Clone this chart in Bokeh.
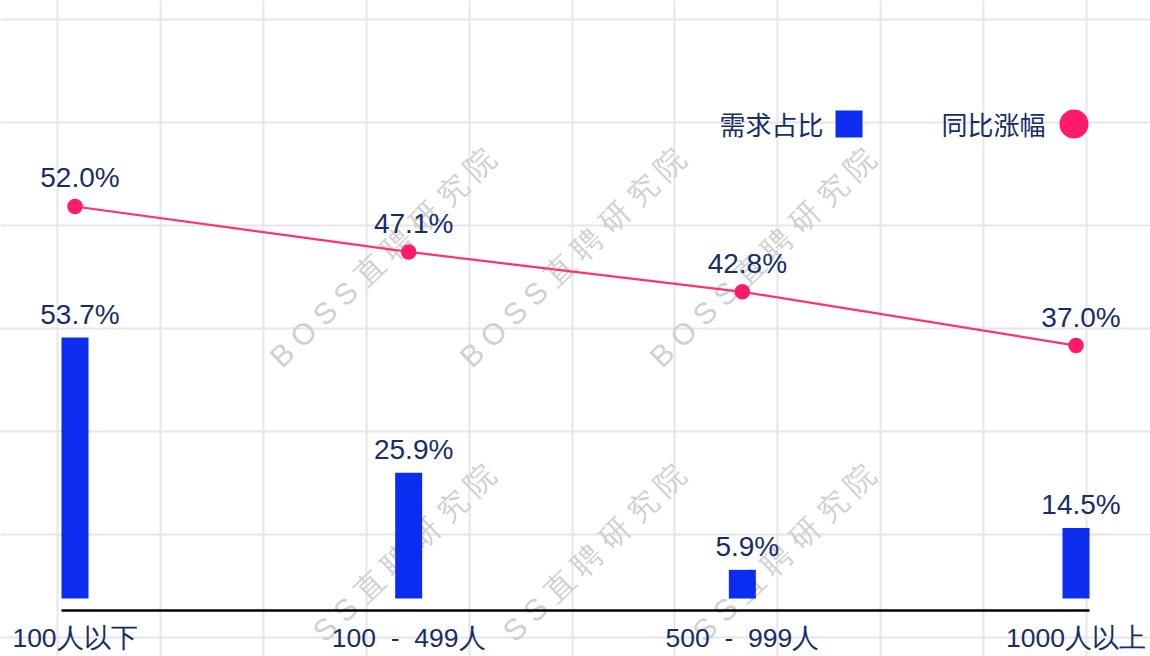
import math
from bokeh.plotting import figure
from bokeh.models import Range1d, ColumnDataSource, LabelSet, Label, FixedTicker, Grid
from bokeh.core.properties import value
from bokeh.embed import file_html
from bokeh.resources import INLINE

# ---------------- data ----------------
categories = ["100人以下", "100\u2007-\u2007499人", "500\u2007-\u2007999人", "1000人以上"]
demand_share = [53.7, 25.9, 5.9, 14.5]        # 需求占比 (bars)
yoy_growth = [52.0, 47.1, 42.8, 37.0]         # 同比涨幅 (line)
demand_labels = ["53.7%", "25.9%", "5.9%", "14.5%"]
growth_labels = ["52.0%", "47.1%", "42.8%", "37.0%"]
legend_names = ["需求占比", "同比涨幅"]
watermark_full = "B O S S 直 聘 研 究 院"
watermark_cut = "S S 直 聘 研 究 院"

# ---------------- layout / style ----------------
W, H = 1150, 656
X_MIN, X_MAX = -74.5 / 333.67, (1150 - 74.5) / 333.67
Y_MIN, Y_MAX = -11.93, 123.05          # bar axis
L_MIN, L_MAX = 3.46, 74.22             # line axis

NAVY = "#172d6b"
BLUE = "#0c2cf0"
PINK = "#ff1a6b"
GRID = "#e6e6e6"
FONT = "Liberation Sans"
CJK = "Noto Sans CJK SC"


def dx(px):
    return X_MIN + px / W * (X_MAX - X_MIN)


def dy(py):
    return Y_MIN + (H - py) / H * (Y_MAX - Y_MIN)


xs = list(range(len(categories)))
BAR_W = 27 / 333.67

p = figure(width=W, height=H,
           x_range=Range1d(X_MIN, X_MAX), y_range=Range1d(Y_MIN, Y_MAX),
           output_backend="svg", toolbar_location=None, min_border=0,
           x_axis_location=None, y_axis_location=None)
p.extra_y_ranges = {"line": Range1d(L_MIN, L_MAX)}
p.outline_line_color = None
p.background_fill_color = "white"
p.border_fill_color = "white"
p.grid.visible = False

# background grid
vgrid = Grid(dimension=0, ticker=FixedTicker(ticks=[dx(57 + 102.9 * k) for k in range(11)]),
             grid_line_color=GRID, grid_line_width=2)
hgrid = Grid(dimension=1, ticker=FixedTicker(ticks=[dy(19 + 103 * k) for k in range(7)]),
             grid_line_color=GRID, grid_line_width=2)
p.add_layout(vgrid, "center")
p.add_layout(hgrid, "center")

# watermark (top row full, bottom row shows only the part inside the picture)
ang = math.radians(44)
wm_px = [382, 572, 762]
shift = 30
wm = ColumnDataSource(dict(
    x=[dx(a) for a in wm_px] + [dx(a + shift * math.cos(ang)) for a in wm_px],
    y=[dy(257)] * 3 + [dy(573 - shift * math.sin(ang))] * 3,
    t=[watermark_full] * 3 + [watermark_cut] * 3,
))
p.text(x="x", y="y", text="t", source=wm, angle=ang,
       text_align="center", text_baseline="middle", text_font_size="30px",
       text_font=value(FONT), text_color="#d0d0d0")

# bars
src = ColumnDataSource(dict(x=xs, demand=demand_share, growth=yoy_growth,
                            dlab=demand_labels, glab=growth_labels, cat=categories))
p.vbar(x="x", top="demand", bottom=0, width=BAR_W, source=src,
       fill_color=BLUE, line_color=None)

# axis baseline
p.segment(x0=[xs[0] - BAR_W / 2], x1=[xs[-1] + BAR_W / 2], y0=[dy(610)], y1=[dy(610)],
          line_color="#000000", line_width=2.5)

# line
p.line(x="x", y="growth", source=src, y_range_name="line",
       line_color="#ff2f78", line_width=2.2)
p.scatter(x="x", y="growth", source=src, y_range_name="line",
          size=15.5, fill_color=PINK, line_color=None)

# value labels
p.add_layout(LabelSet(x="x", y="demand", text="dlab", source=src,
                      text_align="center", text_baseline="alphabetic",
                      x_offset=5, y_offset=14, text_font_size=value("28px"),
                      text_font=value(FONT), text_color=NAVY))
p.add_layout(LabelSet(x="x", y="growth", text="glab", source=src, y_range_name="line",
                      text_align="center", text_baseline="alphabetic",
                      x_offset=5, y_offset=19, text_font_size=value("28px"),
                      text_font=value(FONT), text_color=NAVY))

# category labels
p.add_layout(LabelSet(x="x", y=dy(646), text="cat", source=src,
                      text_align="center", text_baseline="alphabetic",
                      text_font_size=value("26.5px"), text_font=value(FONT),
                      text_color=NAVY))

# legend (text left of swatch)
p.add_layout(Label(x=dx(823), y=dy(123), text=legend_names[0],
                   text_align="right", text_baseline="middle",
                   text_font_size="26px", text_font=CJK, text_color=NAVY))
p.scatter(x=[dx(848.5)], y=[dy(123.5)], marker="square", size=27,
          fill_color=BLUE, line_color=None)
p.add_layout(Label(x=dx(1045), y=dy(123), text=legend_names[1],
                   text_align="right", text_baseline="middle",
                   text_font_size="26px", text_font=CJK, text_color=NAVY))
p.scatter(x=[dx(1073.5)], y=[dy(123.5)], marker="circle", size=29,
          fill_color=PINK, line_color=None)

open("out.html", "w").write(file_html(p, INLINE))
